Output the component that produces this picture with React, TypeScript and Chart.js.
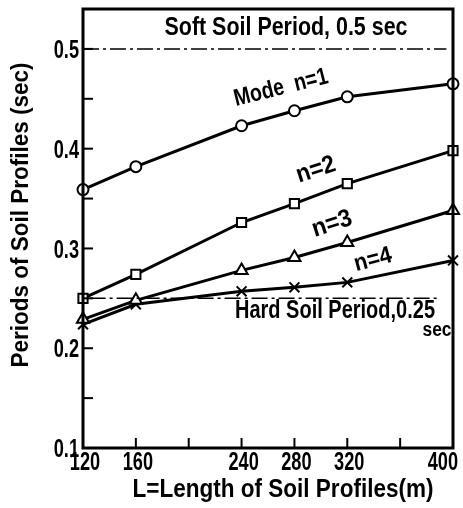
import React, { useEffect, useRef } from "react";
import { Chart, registerables } from "chart.js";

Chart.register(...registerables);

const lengths = [120, 160, 240, 280, 320, 400];
const mode1 = [0.359, 0.382, 0.423, 0.438, 0.452, 0.465];
const mode2 = [0.25, 0.274, 0.326, 0.345, 0.365, 0.398];
const mode3 = [0.229, 0.248, 0.278, 0.291, 0.306, 0.338];
const mode4 = [0.224, 0.244, 0.257, 0.261, 0.266, 0.288];
const softPeriod = 0.5;
const hardPeriod = 0.25;
const softRange = [120, 395];
const hardRange = [125, 389];
const xTickValues = [120, 160, 200, 240, 280, 320, 360, 400];
const xTickLabels = ["120", "160", "", "240", "280", "320", "", "400"];
const yTickValues = [0.1, 0.15, 0.2, 0.25, 0.3, 0.35, 0.4, 0.45, 0.5];
const yTickLabels = ["0.1", "", "0.2", "", "0.3", "", "0.4", "", "0.5"];

const FONT = '"Liberation Sans", "DejaVu Sans", sans-serif';

function drawText(
  ctx: CanvasRenderingContext2D,
  text: string,
  x: number,
  y: number,
  size: number,
  opts: { width?: number; sx?: number; align?: CanvasTextAlign; rot?: number } = {}
) {
  ctx.save();
  ctx.translate(x, y);
  if (opts.rot) ctx.rotate((opts.rot * Math.PI) / 180);
  ctx.font = `bold ${size}px ${FONT}`;
  const w = ctx.measureText(text).width;
  const sx = opts.width ? opts.width / w : opts.sx ?? 0.78;
  ctx.scale(sx, 1);
  ctx.textAlign = opts.align ?? "center";
  ctx.textBaseline = "middle";
  ctx.fillStyle = "#000";
  ctx.fillText(text, 0, 0);
  ctx.restore();
}

const decorPlugin = {
  id: "decor",
  beforeDraw(chart: any) {
    const ctx = chart.ctx as CanvasRenderingContext2D;
    ctx.save();
    ctx.fillStyle = "#fff";
    ctx.fillRect(0, 0, chart.width, chart.height);
    ctx.restore();
  },
  afterDatasetsDraw(chart: any) {
    const ctx = chart.ctx as CanvasRenderingContext2D;
    const { left, right, top, bottom } = chart.chartArea;
    const xs = chart.scales.x;
    const ys = chart.scales.y;
    ctx.save();
    ctx.strokeStyle = "#000";
    ctx.lineWidth = 3;
    ctx.strokeRect(left, top, right - left, bottom - top);
    ctx.lineWidth = 2;
    // x ticks (inward)
    xTickValues.forEach((v, i) => {
      const px = xs.getPixelForValue(v);
      if (i > 0 && i < xTickValues.length - 1) {
        ctx.beginPath();
        ctx.moveTo(px, bottom);
        ctx.lineTo(px, bottom - 10);
        ctx.stroke();
      }
      const lbl = xTickLabels[i];
      if (lbl) {
        const last = i === xTickValues.length - 1;
        drawText(ctx, lbl, last ? right + 5 : px + 2, bottom + 15, 26, {
          sx: 0.7,
          align: last ? "right" : "center",
        });
      }
    });
    // y ticks (inward)
    yTickValues.forEach((v, i) => {
      const py = ys.getPixelForValue(v);
      if (i > 0) {
        ctx.beginPath();
        ctx.moveTo(left, py);
        ctx.lineTo(left + 10, py);
        ctx.stroke();
      }
      const lbl = yTickLabels[i];
      if (lbl) drawText(ctx, lbl, left - 4, py + 2, 26, { sx: 0.7, align: "right" });
    });
    // annotations
    drawText(ctx, "Soft Soil Period, 0.5 sec", 286, 28, 26, { width: 243 });
    drawText(ctx, "Hard Soil Period,0.25", 235, 311, 26, { width: 200, align: "left" });
    drawText(ctx, "sec", 437, 330, 20, { width: 29 });
    drawText(ctx, "Mode  n=1", 281, 88, 24, { width: 96, rot: -14 });
    drawText(ctx, "n=2", 316, 170, 25, { width: 40, rot: -18 });
    drawText(ctx, "n=3", 332, 224, 25, { width: 41, rot: -18 });
    drawText(ctx, "n=4", 373, 260, 24, { width: 38, rot: -15 });
    // axis titles
    drawText(ctx, "Periods of Soil Profiles (sec)", 21, 215, 24, { width: 305, rot: -90 });
    drawText(ctx, "L=Length of Soil Profiles(m)", 283, 490, 26, { width: 301 });
    ctx.restore();
  },
};

function series(values: number[]) {
  return lengths.map((x, i) => ({ x, y: values[i] }));
}

export default function App() {
  const ref = useRef<HTMLCanvasElement>(null);
  useEffect(() => {
    if (!ref.current) return;
    const common = {
      borderColor: "#000",
      borderWidth: 3,
      pointBackgroundColor: "#fff",
      pointBorderColor: "#000",
      pointBorderWidth: 2,
      clip: false as any,
      tension: 0,
    };
    const chart = new Chart(ref.current, {
      type: "line",
      data: {
        datasets: [
          {
            data: [
              { x: softRange[0], y: softPeriod },
              { x: softRange[1], y: softPeriod },
            ],
            borderColor: "#000",
            borderWidth: 1.5,
            borderDash: [16, 4, 3, 4],
            pointRadius: 0,
          },
          {
            data: [
              { x: hardRange[0], y: hardPeriod },
              { x: hardRange[1], y: hardPeriod },
            ],
            borderColor: "#000",
            borderWidth: 1.5,
            borderDash: [16, 4, 3, 4],
            pointRadius: 0,
          },
          { ...common, data: series(mode1), pointStyle: "circle", pointRadius: 5.5 },
          { ...common, data: series(mode2), pointStyle: "rect", pointRadius: 6.5 },
          { ...common, data: series(mode3), pointStyle: "triangle", pointRadius: 7 },
          { ...common, data: series(mode4), pointStyle: "crossRot", pointRadius: 7 },
        ] as any,
      },
      options: {
        animation: false,
        responsive: false,
        events: [],
        layout: { padding: { left: 83, right: 10, top: 5, bottom: 60 } },
        plugins: { legend: { display: false }, tooltip: { enabled: false } },
        scales: {
          x: { type: "linear", min: 120, max: 400, display: false },
          y: { type: "linear", min: 0.1, max: 0.54, display: false },
        },
      },
      plugins: [decorPlugin],
    });
    return () => chart.destroy();
  }, []);
  return (
    <div style={{ position: "fixed", left: 0, top: 0, width: 463, height: 508 }}>
      <canvas ref={ref} width={463} height={508} />
    </div>
  );
}
